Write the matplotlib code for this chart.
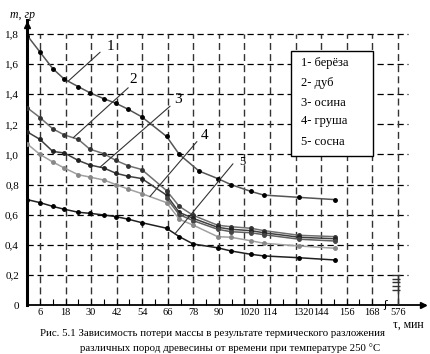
import numpy as np
import matplotlib
matplotlib.use('Agg')
import matplotlib.pyplot as plt
from matplotlib.patches import Rectangle

plt.rcParams['font.family'] = ['Liberation Serif', 'DejaVu Serif']

# ось времени: положение точек в шагах сетки (шаг = одна подпись)
x_birch = [0, 0.5, 1.0, 1.45, 2.0, 2.45, 3.0, 3.47, 3.95, 4.48, 5.45, 5.95, 6.72,
           7.45, 7.97, 8.74, 9.26, 10.64, 12.04]
x_main = [0, 0.5, 1.0, 1.45, 2.0, 2.45, 3.0, 3.47, 3.95, 4.48, 5.45, 5.95, 6.5,
          7.45, 7.97, 8.74, 9.26, 10.64, 12.04]
x_extra = [5.45, 5.95, 6.5, 7.45, 7.97, 8.74, 9.26, 10.64, 12.04]

m_birch = [1.79, 1.68, 1.57, 1.50, 1.45, 1.41, 1.37, 1.34, 1.30, 1.25, 1.12, 1.00, 0.89,
           0.84, 0.80, 0.755, 0.73, 0.715, 0.70]
m_oak = [1.31, 1.245, 1.17, 1.13, 1.10, 1.035, 1.005, 0.96, 0.925, 0.90, 0.76, 0.655, 0.595,
         0.53, 0.52, 0.51, 0.494, 0.463, 0.454]
m_aspen = [1.15, 1.10, 1.02, 1.01, 0.96, 0.93, 0.91, 0.875, 0.855, 0.84, 0.73, 0.615, 0.575,
           0.516, 0.503, 0.494, 0.48, 0.45, 0.44]
m_pear = [1.07, 1.00, 0.95, 0.91, 0.865, 0.85, 0.83, 0.80, 0.77, 0.74, 0.68, 0.57, 0.53,
          0.454, 0.45, 0.427, 0.41, 0.392, 0.377]
m_pine = [0.70, 0.68, 0.655, 0.636, 0.616, 0.609, 0.598, 0.587, 0.57, 0.547, 0.51, 0.454, 0.405,
          0.38, 0.359, 0.337, 0.326, 0.314, 0.299]
m_extra = [0.71, 0.60, 0.56, 0.503, 0.487, 0.48, 0.467, 0.437, 0.425]
m_576 = [0.20, 0.175, 0.15, 0.125, 0.10]

tick_labels = ['6', '18', '30', '42', '54', '66', '78', '90', '1020', '114', '1320',
               '144', '156', '168', '576']
y_ticks = [0, 0.2, 0.4, 0.6, 0.8, 1.0, 1.2, 1.4, 1.6, 1.8]
y_labels = ['0', '0,2', '0,4', '0,6', '0,8', '1,0', '1,2', '1,4', '1,6', '1,8']
legend_items = ['1- берёза', '2- дуб', '3- осина', '4- груша', '5- сосна']

fig = plt.figure(figsize=(4.3, 3.54), dpi=100)
ax = fig.add_axes([0.0633, 0.1384, 0.9249, 0.8051])
ax.set_xlim(0, 15.56)
ax.set_ylim(0, 1.893)

# сетка
dash = (0, (5, 3))
ax.hlines(y_ticks[1:], 0, 14.9, colors='black', linestyles=dash, lw=0.9, zorder=1)
ax.vlines(np.arange(len(tick_labels)) + 0.5, 0, 1.8, colors='#333333', linestyles=dash,
          lw=1.0, zorder=1)

for s in ['top', 'right']:
    ax.spines[s].set_visible(False)
ax.spines['left'].set_linewidth(2.2)
ax.spines['bottom'].set_linewidth(1.3)
ax.plot(0, 1.86, marker='^', ms=5, color='black', clip_on=False, zorder=5)
ax.plot(15.5, 0, marker='>', ms=5, color='black', clip_on=False, zorder=5)

ax.set_yticks(y_ticks, y_labels, fontsize=8)
ax.tick_params(axis='y', length=0, pad=6)
ax.set_xticks(list(np.arange(0.5, 13.51, 0.5)) + [14.5], [])
ax.tick_params(axis='x', direction='in', length=4, width=0.8)

label_shift = {'1020': -5, '1320': -2}
for i, lab in enumerate(tick_labels):
    if lab in label_shift:
        ax.annotate(lab, xy=(i + 0.5, 0), xycoords=('data', 'axes fraction'),
                    xytext=(label_shift[lab], -3), textcoords='offset pixels',
                    ha='left', va='top', fontsize=7.5)
    else:
        ax.annotate(lab, xy=(i + 0.5, 0), xycoords=('data', 'axes fraction'),
                    xytext=(0, -3), textcoords='offset pixels',
                    ha='center', va='top', fontsize=7.5)

# разрыв оси
ax.text(14.0, 0, 'ʃ', ha='center', va='center', fontsize=8, family=['DejaVu Sans'])

# кривые
curves = [
    (x_birch, m_birch, '#555555', 'black'),
    (x_main, m_oak, '#707070', '#333333'),
    (x_main, m_aspen, '#404040', '#222222'),
    (x_extra, m_extra, '#606060', '#444444'),
    (x_main, m_pear, '#a0a0a0', '#888888'),
    (x_main, m_pine, '#202020', 'black'),
]
for xs, ys, c, mc in curves:
    ax.plot(xs, ys, color=c, lw=1.1, marker='o', ms=2.5, mfc=mc, mec=mc, zorder=3)

ax.plot([14.42] * len(m_576), m_576, ls='none', marker='_', ms=6, color='#333333', zorder=3)
ax.vlines(14.5, 0, m_576[0], colors='#333333', lw=1.0, zorder=3)

# номера кривых с выносками
leaders = [
    ('1', x_birch, m_birch, 1.6, (32, 29), (42, 35), 11),
    ('2', x_main, m_oak, 1.8, (55, 50), (60, 58), 11),
    ('3', x_main, m_aspen, 2.85, (70, 61), (78, 68), 11),
    ('4', x_main, m_pear, 4.8, (47, 55), (55, 61), 11),
    ('5', x_main, m_pine, 5.78, (58, 70), (67, 72), 9),
]
for num, xs, ys, u, lend, tpos, fs in leaders:
    pt = (u, np.interp(u, xs, ys))
    ax.annotate('', xy=pt, xytext=lend, textcoords='offset pixels',
                arrowprops=dict(arrowstyle='-', color='#333333', lw=0.8,
                                shrinkA=0, shrinkB=0), zorder=4)
    ax.annotate(num, xy=pt, xytext=tpos, textcoords='offset pixels',
                ha='center', va='center', fontsize=fs)

# легенда
box = Rectangle((291 / 430, 1 - 156 / 354), 82 / 430, 105 / 354, transform=fig.transFigure,
                facecolor='white', edgecolor='black', lw=1.0, zorder=6)
ax.add_patch(box)
for item, py in zip(legend_items, [63, 83, 103, 121, 142]):
    fig.text(301 / 430, 1 - py / 354, item, ha='left', va='center', fontsize=9, zorder=7)

fig.text(10 / 430, 1 - 15 / 354, 'm, гр', ha='left', va='center', fontsize=8.5, style='italic')
fig.text(393 / 430, 1 - 325 / 354, 'τ, мин', ha='left', va='center', fontsize=8.5)

fig.text(212 / 430, 1 - 333 / 354,
         'Рис. 5.1 Зависимость потери массы в результате термического разложения',
         ha='center', va='center', fontsize=7.8)
fig.text(230 / 430, 1 - 348 / 354,
         'различных пород древесины от времени при температуре 250 °С',
         ha='center', va='center', fontsize=7.8)

fig.savefig('out.png', dpi=100)
